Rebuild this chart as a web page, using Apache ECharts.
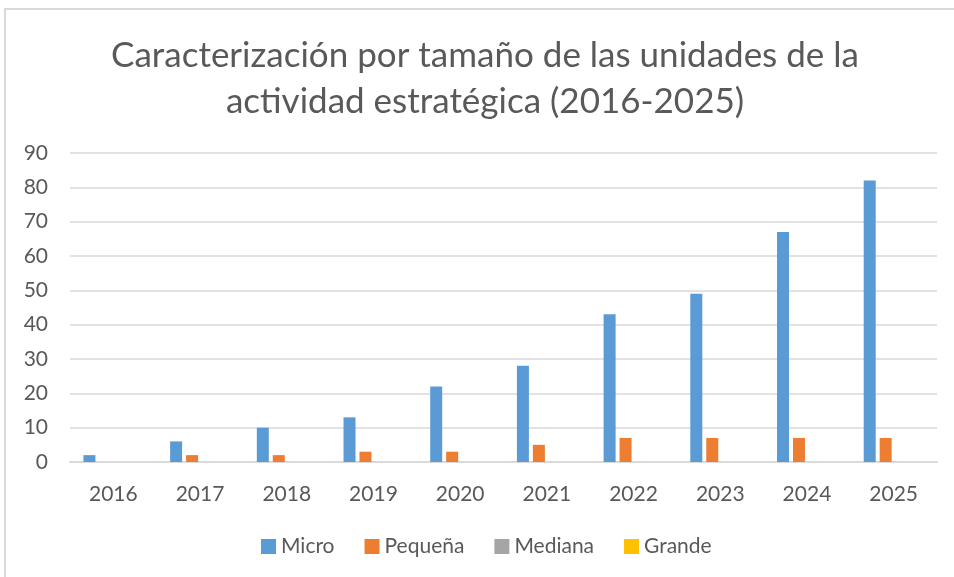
<!DOCTYPE html>
<html><head><meta charset="utf-8">
<script src="https://cdn.jsdelivr.net/npm/echarts@6/dist/echarts.min.js"></script>
<style>html,body{margin:0;padding:0;background:#fff}#c{width:954px;height:577px}</style>
</head><body><div id="c"></div>
<script>
var categories = ['2016','2017','2018','2019','2020','2021','2022','2023','2024','2025'];
var micro   = [2, 6, 10, 13, 22, 28, 43, 49, 67, 82];
var pequena = [0, 2, 2, 3, 3, 5, 7, 7, 7, 7];
var mediana = [0, 0, 0, 0, 0, 0, 0, 0, 0, 0];
var grande  = [0, 0, 0, 0, 0, 0, 0, 0, 0, 0];
var seriesNames = ['Micro','Pequeña','Mediana','Grande'];
var titleText = 'Caracterización por tamaño de las unidades de la\nactividad estratégica (2016-2025)';
var colors = ['#5B9BD5','#ED7D31','#A5A5A5','#FFC000'];
var font = 'Lato';
var chart = echarts.init(document.getElementById('c'));
function bar(name, data, color){
  return {name:name, type:'bar', data:data, barWidth:12, barGap:'33%',
    itemStyle:{color:color}, animation:false};
}
chart.setOption({
  animation:false,
  textStyle:{fontFamily:font},
  graphic:[
    {type:'rect', shape:{x:5,y:9,width:960,height:580}, style:{fill:'none', stroke:'#d9d9d9', lineWidth:2}},
    {type:'text', x:485, y:33, style:{text:titleText, fontFamily:font, fontSize:35, lineHeight:46, fill:'#595959', align:'center', verticalAlign:'top'}}
  ],
  legend:{bottom:15, left:256, itemWidth:15, itemHeight:15, itemGap:30, icon:'rect',
    textStyle:{fontFamily:font, fontSize:21, color:'#595959'}, data:seriesNames},
  grid:{left:70, right:17, top:153, bottom:115, containLabel:false},
  xAxis:{type:'category', data:categories, axisTick:{show:false},
    axisLine:{lineStyle:{color:'#d9d9d9', width:2}},
    axisLabel:{fontFamily:font, fontSize:21, color:'#595959', margin:22}},
  yAxis:{type:'value', min:0, max:90, interval:10,
    axisLabel:{fontFamily:font, fontSize:21, color:'#595959', margin:22},
    splitLine:{lineStyle:{color:'#d9d9d9', width:1.5}}},
  series:[bar(seriesNames[0],micro,colors[0]), bar(seriesNames[1],pequena,colors[1]), bar(seriesNames[2],mediana,colors[2]), bar(seriesNames[3],grande,colors[3])]
});
</script></body></html>
